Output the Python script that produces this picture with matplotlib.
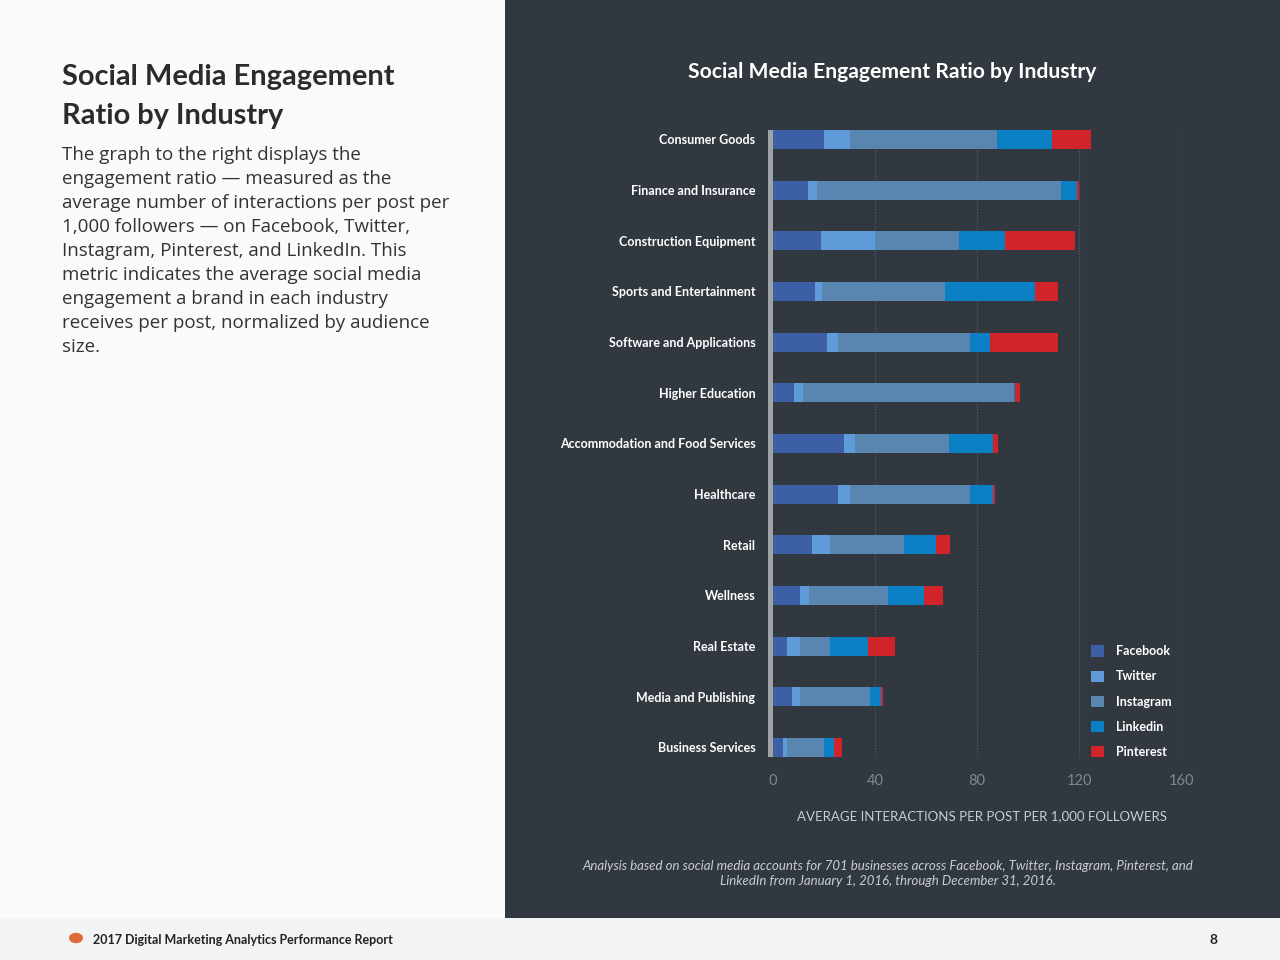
import matplotlib
matplotlib.use("Agg")
import matplotlib.pyplot as plt
from matplotlib.patches import Rectangle, Patch
import numpy as np

plt.rcParams['font.family'] = ['Lato', 'DejaVu Sans']

# ---------------- data ----------------
industries = ["Consumer Goods", "Finance and Insurance", "Construction Equipment",
              "Sports and Entertainment", "Software and Applications", "Higher Education",
              "Accommodation and Food Services", "Healthcare", "Retail", "Wellness",
              "Real Estate", "Media and Publishing", "Business Services"]
networks = ["Facebook", "Twitter", "Instagram", "Linkedin", "Pinterest"]
facebook  = [20.0, 13.6, 18.9, 16.6, 21.1, 8.4, 27.7, 25.4, 15.4, 10.6, 5.5, 7.3, 3.8]
twitter   = [10.0, 3.8, 21.1, 2.5, 4.3, 3.3, 4.4, 4.8, 7.1, 3.6, 5.1, 3.3, 1.7]
instagram = [58.0, 95.5, 32.9, 48.2, 51.7, 83.0, 37.0, 47.1, 28.9, 30.8, 11.9, 27.4, 14.5]
linkedin  = [21.6, 6.4, 18.2, 35.6, 8.0, 0.3, 17.3, 9.1, 12.5, 14.2, 14.6, 4.2, 3.9]
pinterest = [15.3, 0.8, 27.4, 8.7, 26.5, 1.8, 1.8, 0.8, 5.4, 7.5, 10.6, 0.8, 3.0]
xticks = [0, 40, 80, 120, 160]

series = [facebook, twitter, instagram, linkedin, pinterest]
colors = ["#3d5fa6", "#5f9bd9", "#5886b0", "#0b7fc4", "#d0232a"]

DARK = "#31383f"
W, H = 1280, 960
fig = plt.figure(figsize=(12.8, 9.6), dpi=100)
fig.patch.set_facecolor("#fafafa")

# background panels
fig.add_artist(Rectangle((505 / W, 42 / H), 775 / W, 918 / H, transform=fig.transFigure,
                         facecolor=DARK, edgecolor="none", zorder=0))
fig.add_artist(Rectangle((0, 0), 1, 42 / H, transform=fig.transFigure,
                         facecolor="#f2f3f4", edgecolor="none", zorder=0))

# ---------------- chart ----------------
ax = fig.add_axes([768 / W, 1 - 757 / H, (1181 - 768) / W, (757 - 130) / H])
ax.set_facecolor("none")
y = np.arange(len(industries))
left = np.zeros(len(industries))
handles = []
for vals, col, name in zip(series, colors, networks):
    ax.barh(y, vals, left=left, height=0.375, color=col, edgecolor="none", zorder=3)
    left = left + np.array(vals)
    handles.append(Patch(facecolor=col, edgecolor="none", label=name))

xmin = -160 * 5 / (1181 - 773)
ax.set_xlim(xmin, 160)
ax.set_ylim(len(industries) - 1 + 0.1875, -0.1875)
ax.axvspan(xmin, 0, color="#a0a3a6", zorder=4, lw=0)

ax.set_xticks(xticks)
ax.set_xticklabels([str(t) for t in xticks])
ax.set_yticks(y)
ax.set_yticklabels(industries)
ax.tick_params(axis="x", length=0, pad=12, labelcolor="#80878f", labelsize=10.5)
ax.tick_params(axis="y", length=0, pad=9, labelcolor="white", labelsize=9)
for lab in ax.get_yticklabels():
    lab.set_fontweight("bold")
for s in ax.spines.values():
    s.set_visible(False)
ax.xaxis.grid(True, linestyle=(0, (1, 1.5)), color="#59606a", linewidth=0.8, zorder=1)
ax.yaxis.grid(False)
for gl, t in zip(ax.get_xgridlines(), xticks):
    if t == 0:
        gl.set_visible(False)

leg = ax.legend(handles=handles, loc="lower left", bbox_to_anchor=(1080 / W, 1 - 769 / H),
                bbox_transform=fig.transFigure, frameon=False, fontsize=9,
                handlelength=1.0, handleheight=1.0, handletextpad=1.0, labelspacing=1.05)
for t in leg.get_texts():
    t.set_color("white")
    t.set_fontweight("bold")

fig.text(892 / W, 1 - 72 / H, "Social Media Engagement Ratio by Industry", color="white",
         fontsize=15.2, fontweight="bold", ha="center", va="center")
fig.text(982 / W, 1 - 816 / H, "AVERAGE INTERACTIONS PER POST PER 1,000 FOLLOWERS",
         color="#c9cdd1", fontsize=9.5, ha="center", va="center")
fig.text(888 / W, 1 - 866 / H,
         "Analysis based on social media accounts for 701 businesses across Facebook, Twitter, Instagram, Pinterest, and",
         color="#c9cdd1", fontsize=9.5, style="italic", ha="center", va="center")
fig.text(888 / W, 1 - 881 / H, "LinkedIn from January 1, 2016, through December 31, 2016.",
         color="#c9cdd1", fontsize=9.5, style="italic", ha="center", va="center")

# ---------------- left panel ----------------
fig.text(62 / W, 1 - 77 / H, "Social Media Engagement", color="#2b2b2b", fontsize=20.9,
         fontweight="bold", ha="left", va="center")
fig.text(62 / W, 1 - 116 / H, "Ratio by Industry", color="#2b2b2b", fontsize=20.9,
         fontweight="bold", ha="left", va="center")
body = ["The graph to the right displays the",
        "engagement ratio \u2014 measured as the",
        "average number of interactions per post per",
        "1,000 followers \u2014 on Facebook, Twitter,",
        "Instagram, Pinterest, and LinkedIn. This",
        "metric indicates the average social media",
        "engagement a brand in each industry",
        "receives per post, normalized by audience",
        "size."]
for i, line in enumerate(body):
    fig.text(62 / W, 1 - (155 + 24 * i) / H, line, color="#333333", fontsize=13.5,
             family=["Open Sans", "DejaVu Sans"], ha="left", va="center")

# footer
fig.add_artist(plt.Circle((76 / W, 1 - 938 / H), 7 / W, transform=fig.transFigure,
                          facecolor="#e06b3a", edgecolor="none"))
fig.text(93 / W, 1 - 940 / H, "2017 Digital Marketing Analytics Performance Report",
         color="#222222", fontsize=9, fontweight="bold", ha="left", va="center")
fig.text(1213 / W, 1 - 940 / H, "8", color="#222222", fontsize=10, fontweight="bold",
         ha="center", va="center")

fig.savefig("out.png", dpi=100, facecolor=fig.get_facecolor())
